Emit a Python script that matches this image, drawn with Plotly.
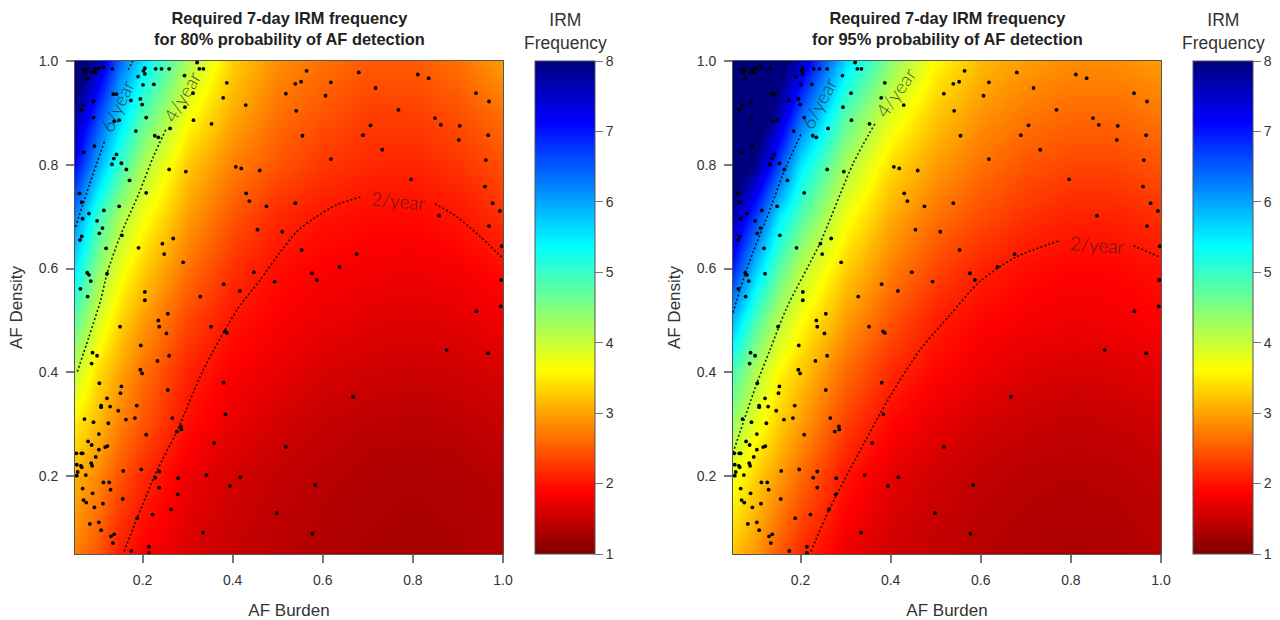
import plotly.graph_objects as go

BURDEN = [.05, .1, .15, .2, .3, .4, .5, .6, .7, .8, .9, 1.0]
DENSITY = [.05, .2, .3, .4, .5, .6, .7, .8, .9, 1.0]

FREQ_80 = [
    [2.75, 2.45, 2.05, 1.85, 1.62, 1.48, 1.40, 1.34, 1.30, 1.28, 1.30, 1.36],
    [3.10, 2.80, 2.45, 2.15, 1.75, 1.58, 1.46, 1.40, 1.34, 1.32, 1.34, 1.40],
    [3.50, 3.15, 2.75, 2.45, 1.95, 1.72, 1.58, 1.48, 1.42, 1.40, 1.42, 1.50],
    [4.05, 3.40, 3.00, 2.65, 2.10, 1.85, 1.72, 1.60, 1.55, 1.52, 1.55, 1.62],
    [4.75, 3.90, 3.35, 2.95, 2.35, 2.00, 1.85, 1.75, 1.68, 1.65, 1.68, 1.78],
    [5.50, 4.40, 3.75, 3.30, 2.65, 2.20, 1.95, 1.85, 1.80, 1.78, 1.82, 1.95],
    [6.20, 5.00, 4.20, 3.70, 2.95, 2.45, 2.15, 2.00, 1.93, 1.92, 2.00, 2.20],
    [7.10, 5.95, 5.00, 4.20, 3.25, 2.75, 2.45, 2.25, 2.15, 2.12, 2.22, 2.42],
    [7.80, 6.70, 5.70, 4.85, 3.70, 3.05, 2.65, 2.45, 2.30, 2.30, 2.42, 2.65],
    [8.60, 7.60, 6.40, 5.55, 4.20, 3.30, 2.85, 2.65, 2.50, 2.50, 2.65, 2.95],
]
FREQ_95 = [
    [3.20, 2.90, 2.50, 2.15, 1.75, 1.55, 1.45, 1.38, 1.33, 1.30, 1.32, 1.38],
    [3.75, 3.30, 2.95, 2.60, 2.00, 1.70, 1.55, 1.45, 1.40, 1.38, 1.40, 1.45],
    [4.30, 3.75, 3.30, 2.95, 2.30, 1.90, 1.70, 1.58, 1.50, 1.46, 1.48, 1.55],
    [4.90, 4.15, 3.60, 3.25, 2.60, 2.15, 1.90, 1.75, 1.65, 1.60, 1.63, 1.70],
    [5.85, 4.85, 4.15, 3.65, 2.95, 2.45, 2.08, 1.90, 1.82, 1.78, 1.80, 1.88],
    [6.90, 5.70, 4.80, 4.10, 3.30, 2.75, 2.35, 2.10, 1.95, 1.88, 1.90, 1.97],
    [7.70, 6.70, 5.55, 4.80, 3.70, 3.05, 2.65, 2.40, 2.20, 2.10, 2.10, 2.20],
    [8.60, 7.85, 6.70, 5.50, 4.20, 3.40, 2.95, 2.65, 2.45, 2.35, 2.35, 2.45],
    [9.20, 8.60, 7.70, 6.50, 4.80, 3.85, 3.25, 2.90, 2.70, 2.60, 2.60, 2.70],
    [9.60, 9.20, 8.40, 7.50, 5.60, 4.40, 3.60, 3.15, 2.95, 2.85, 2.85, 2.95],
]

PATIENTS = [
    (.070,.984),(.074,.983),(.073,.978),(.087,.978),(.096,.978),(.094,.985),(.102,.986),(.113,.988),
    (.133,.985),(.077,.965),(.091,.922),(.070,.915),(.064,.906),(.091,.891),(.069,.824),(.093,.836),
    (.202,.981),(.205,.986),(.205,.975),(.190,.970),(.229,.985),(.242,.985),(.259,.985),(.201,.954),
    (.225,.955),(.293,.972),(.326,.985),(.335,.985),(.321,.997),(.387,.958),(.518,.937),(.135,.936),
    (.142,.936),(.174,.924),(.195,.927),(.199,.916),(.312,.938),(.294,.911),(.379,.929),(.429,.915),
    (.137,.884),(.148,.886),(.208,.891),(.313,.886),(.353,.879),(.185,.865),(.261,.870),(.227,.856),
    (.235,.853),(.142,.820),(.136,.812),(.132,.801),(.153,.803),(.164,.791),(.171,.770),(.259,.791),
    (.296,.787),(.407,.796),(.419,.793),(.460,.789),(.060,.745),(.065,.728),(.081,.706),(.067,.696),
    (.099,.692),(.114,.712),(.148,.720),(.208,.746),(.430,.745),(.437,.730),(.475,.720),(.111,.678),
    (.104,.668),(.065,.662),(.061,.655),(.154,.664),(.119,.639),(.191,.640),(.244,.648),(.268,.658),
    (.248,.628),(.290,.612),(.455,.675),(.510,.671),(.077,.592),(.081,.588),(.085,.576),(.121,.590),
    (.062,.561),(.078,.546),(.205,.555),(.205,.539),(.328,.546),(.380,.570),(.416,.557),(.447,.593),
    (.493,.575),
    (.256,.513),(.235,.500),(.237,.488),(.150,.488),(.253,.475),(.352,.488),(.383,.479),(.387,.476),
    (.196,.452),(.089,.438),(.099,.432),(.259,.432),(.233,.422),(.087,.417),(.195,.405),(.199,.398),
    (.104,.379),(.153,.373),(.151,.360),(.256,.366),(.380,.380),(.121,.350),(.108,.336),(.108,.333),
    (.128,.334),(.187,.336),(.146,.326),(.071,.310),(.091,.304),(.124,.302),(.163,.309),(.183,.312),
    (.266,.312),(.384,.319),(.285,.296),(.286,.290),(.276,.286),(.103,.281),(.208,.280),(.079,.267),
    (.087,.260),(.103,.251),(.117,.256),(.122,.258),(.359,.264),(.518,.256),(.053,.244),(.064,.244),
    (.067,.244),(.096,.237),(.086,.225),(.088,.220),(.054,.222),(.063,.220),(.065,.217),(.056,.208),
    (.054,.201),(.074,.202),(.157,.210),(.197,.213),(.237,.209),(.228,.197),(.279,.196),(.342,.202),
    (.417,.198),(.113,.188),(.126,.188),(.067,.176),(.129,.174),(.089,.167),(.237,.178),(.278,.165),
    (.394,.181),(.069,.154),(.075,.149),(.093,.140),(.112,.147),(.156,.156),(.263,.136),(.188,.119),
    (.222,.126),(.498,.129),(.083,.108),(.103,.111),(.108,.096),(.130,.084),(.137,.088),(.134,.071),
    (.334,.091),(.214,.064),(.175,.056),(.214,.052),
    (.564,.981),(.680,.978),(.811,.974),(.835,.967),(.539,.956),(.552,.960),(.618,.959),(.606,.933),
    (.717,.948),(.940,.938),(.969,.922),(.541,.904),(.768,.906),(.849,.890),(.862,.877),(.904,.875),
    (.706,.876),(.689,.857),(.555,.856),(.967,.857),(.902,.848),(.732,.829),(.618,.811),(.962,.809),
    (.796,.772),(.960,.758),(.539,.726),(.977,.726),(.993,.711),(.858,.702),(.969,.682),(.997,.643),
    (.553,.636),(.675,.628),(.637,.603),(.576,.591),(.587,.578),(.996,.578),
    (.995,.527),(.941,.518),(.875,.443),(.967,.437),(.667,.353),(.583,.183),(.577,.089),
]
DOT_BURDEN = [p[0] for p in PATIENTS]
DOT_DENSITY = [p[1] for p in PATIENTS]

# iso-frequency lines: None marks the gap left for the label
L80_6 = [(.051,.680),(.083,.764),(.117,.849),(None,None),(.168,.983),(.178,1.0)]
L80_4 = [(.055,.401),(.080,.466),(.107,.5395),(.121,.590),(.150,.662),(.192,.745),(.224,.816),(.253,.870),
         (None,None),(.321,.997)]
L80_2 = [(.159,.055),(.188,.119),(.231,.209),(.276,.286),(.335,.405),(.411,.522),(.461,.578),(.505,.631),
         (.542,.671),(.579,.696),(.631,.723),(.688,.739),(None,None),(.849,.725),(.897,.700),(.949,.662),(.997,.622)]
L95_6 = [(.050,.515),(.080,.598),(.136,.723),(.162,.784),(.202,.861),(None,None),(.273,.997)]
L95_4 = [(.050,.245),(.103,.379),(.132,.443),(.169,.524),(.243,.649),(.317,.803),(.365,.879),(None,None),(.450,.998)]
L95_2 = [(.223,.055),(.265,.138),(.343,.267),(.398,.353),(.465,.443),(.532,.511),(.598,.575),(.680,.623),
         (.773,.653),(None,None),(.939,.644),(.998,.622)]

PANELS = [
    ("Required 7-day IRM frequency<br>for 80% probability of AF detection", FREQ_80, [L80_2, L80_4, L80_6],
     [("6/year", .143, .915, -65), ("4/year", .2875, .931, -60), ("2/year", .769, .732, 5)]),
    ("Required 7-day IRM frequency<br>for 95% probability of AF detection", FREQ_95, [L95_2, L95_4, L95_6],
     [("6/year", .239, .919, -62), ("4/year", .410, .940, -55), ("2/year", .858, .647, 4)]),
]
X_TICKS = [.2, .4, .6, .8, 1.0]
Y_TICKS = [.2, .4, .6, .8, 1.0]
TICK_TEXT = ["0.2", "0.4", "0.6", "0.8", "1.0"]
CBAR_TICKS = [1, 2, 3, 4, 5, 6, 7, 8]
JET = ["#7F0000", "#FF0000", "#FF7F00", "#FFFF00", "#7FFF7F", "#00FFFF", "#007FFF", "#0000FF", "#00007F"]

W, H = 1280, 620
PLOT_W, PLOT_T, PLOT_B = 428, 61, 554
LEFTS = [75, 733]
CBARS = [535, 1193]
FONT = "Liberation Sans"
TXT = "#333333"
TICK = "#777777"
FRAME = "#555555"
scale = [[i / 8, c] for i, c in enumerate(JET)]

fig = go.Figure()
for i, (title, z, lines, labels) in enumerate(PANELS):
    xa, ya = f"x{i+1}", f"y{i+1}"
    fig.add_trace(go.Heatmap(
        x=BURDEN, y=DENSITY, z=z, zmin=1, zmax=8, zsmooth="best", colorscale=scale, xaxis=xa, yaxis=ya,
        colorbar=dict(
            x=CBARS[i] / W, xanchor="left", xref="paper", y=(H - PLOT_B) / H, yanchor="bottom", yref="paper",
            lenmode="pixels", len=PLOT_B - PLOT_T, thicknessmode="pixels", thickness=60, xpad=0, ypad=0,
            outlinewidth=1, outlinecolor=FRAME, tickmode="array", tickvals=CBAR_TICKS, ticks="outside",
            ticklen=8, tickwidth=1.2, tickcolor=TICK, tickprefix="\u2002",
            tickfont=dict(family=FONT, size=14, color=TXT),
        ),
    ))
    for line in lines:
        fig.add_trace(go.Scatter(
            x=[p[0] for p in line], y=[p[1] for p in line], mode="lines", xaxis=xa, yaxis=ya,
            line=dict(color="rgba(0,0,0,0.85)", width=1.6, dash="2px,2.2px", shape="spline", smoothing=0.8),
            hoverinfo="skip", showlegend=False,
        ))
    fig.add_trace(go.Scatter(
        x=DOT_BURDEN, y=DOT_DENSITY, mode="markers", xaxis=xa, yaxis=ya, showlegend=False,
        marker=dict(color="black", size=3.8, line=dict(width=0)),
    ))
    suffix = "" if i == 0 else "2"
    axis_common = dict(
        range=[.05, 1.0], tickmode="array", ticktext=TICK_TEXT, ticks="outside", ticklen=8, tickwidth=1.5,
        tickcolor=TICK, tickfont=dict(family=FONT, size=14, color=TXT), showgrid=False, zeroline=False,
        showline=True, mirror=True, linecolor=FRAME, linewidth=1, automargin=False,
    )
    fig.layout["xaxis" + suffix] = dict(
        axis_common, tickvals=X_TICKS, ticklabelstandoff=5, anchor=ya,
        domain=[LEFTS[i] / W, (LEFTS[i] + PLOT_W) / W],
        title=dict(text="AF Burden", font=dict(family=FONT, size=17, color=TXT), standoff=19),
    )
    fig.layout["yaxis" + suffix] = dict(
        axis_common, tickvals=Y_TICKS, ticklabelstandoff=5, anchor=xa,
        domain=[(H - PLOT_B) / H, (H - PLOT_T) / H],
        title=dict(text="AF Density", font=dict(family=FONT, size=17, color=TXT), standoff=11),
    )
    fig.add_annotation(text=f"<b>{title}</b>", xref="paper", yref="paper", x=(LEFTS[i] + PLOT_W / 2) / W,
                       y=1 - 29 / H, xanchor="center", yanchor="middle", showarrow=False, align="center",
                       font=dict(family=FONT, size=16.4, color="#222222"))
    fig.add_annotation(text="IRM<br>Frequency", xref="paper", yref="paper", x=(CBARS[i] + 30) / W,
                       y=1 - 31 / H, xanchor="center", yanchor="middle", showarrow=False, align="center",
                       font=dict(family=FONT, size=17.5, color=TXT))
    for text, lx, ly, angle in labels:
        fig.add_annotation(text=text, x=lx, y=ly, xref=xa, yref=ya, showarrow=False, textangle=angle,
                           font=dict(family="Lato", size=19, weight=300, color="rgba(30,30,30,0.8)"))

fig.update_layout(
    width=W, height=H, autosize=False, margin=dict(l=0, r=0, t=0, b=0),
    paper_bgcolor="white", plot_bgcolor="white", showlegend=False,
)
fig.write_html("out.html", post_script="document.body.style.margin='0';", config=dict(displayModeBar=False))
